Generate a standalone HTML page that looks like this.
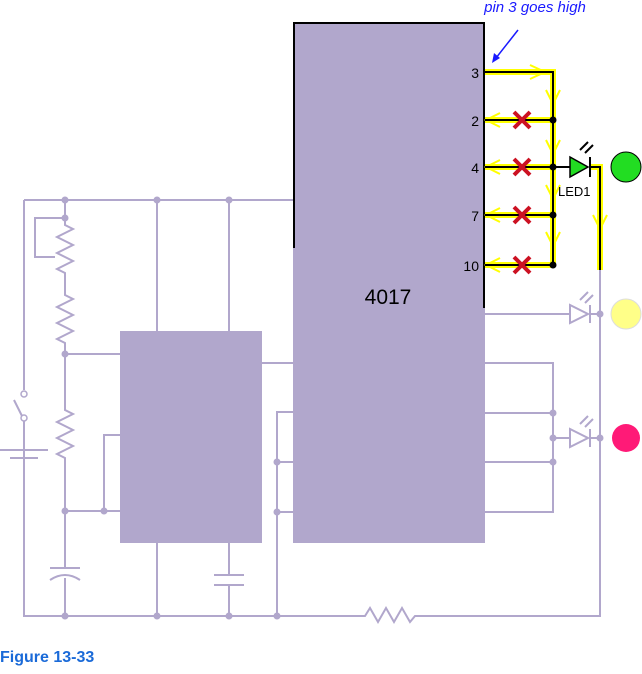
<!DOCTYPE html><html><head><style>body{margin:0;background:#fff}svg{display:block}</style></head><body>
<svg width="642" height="674" viewBox="0 0 642 674" xmlns="http://www.w3.org/2000/svg" font-family="Liberation Sans, sans-serif">
<g stroke="#b1a7cc" stroke-width="2" fill="none">
<path d="M24 200H293M24 200V390M24 420V616H365l5 -8 8 14 8 -14 8 14 8 -14 8 14 5 -6H600V270"/>
<path d="M24 420l-10 -20M24 458V616"/>
<path d="M0 450H48M10 458H38" />
<path d="M65 200V225l8 4-16 8 16 8-16 8 16 8-16 8 8 4V295l8 4-16 8 16 8-16 8 16 8-16 8 8 4V410l8 4-16 8 16 8-16 8 16 8-16 8 8 4V568M65 578V616"/>
<path d="M50 568H80M50 580Q65 570 80 580"/>
<path d="M65 218H35V257H55"/>
<path d="M65 354H120M65 511H120M104 511V435H120"/>
<path d="M157 200V331M157 543V616M229 200V331M229 543V575M229 585V616M214 575H244M214 585H244"/>
<path d="M262 363H293M277 616V412H293M277 462H293M277 512H293"/>
<path d="M485 314H570M485 363H553V512H485M485 413H553M485 462H553M553 438H570M590 438H600M590 314H600"/>
<path d="M570 305V323L588 314ZM590 305V323M570 429V447L588 438ZM590 429V447"/>
<path d="M580 300l8-8M585 303l8-8M580 424l8-8M585 427l8-8"/>
</g>
<g fill="#b1a7cc"><circle cx="65" cy="200" r="3.5"/><circle cx="157" cy="200" r="3.5"/><circle cx="229" cy="200" r="3.5"/><circle cx="65" cy="218" r="3.5"/><circle cx="65" cy="354" r="3.5"/><circle cx="65" cy="511" r="3.5"/><circle cx="104" cy="511" r="3.5"/><circle cx="65" cy="616" r="3.5"/><circle cx="157" cy="616" r="3.5"/><circle cx="229" cy="616" r="3.5"/><circle cx="277" cy="616" r="3.5"/><circle cx="277" cy="462" r="3.5"/><circle cx="277" cy="512" r="3.5"/><circle cx="553" cy="413" r="3.5"/><circle cx="553" cy="438" r="3.5"/><circle cx="553" cy="462" r="3.5"/><circle cx="600" cy="314" r="3.5"/><circle cx="600" cy="438" r="3.5"/>
<rect x="120" y="331" width="142" height="212"/><rect x="293" y="22" width="192" height="521"/></g>
<circle cx="24" cy="394" r="3" fill="#fff" stroke="#b1a7cc" stroke-width="1.5"/><circle cx="24" cy="418" r="3" fill="#fff" stroke="#b1a7cc" stroke-width="1.5"/>
<path d="M294 248V23H484V308" stroke="#000" stroke-width="2" fill="none"/>
<text x="388" y="304" font-size="21" text-anchor="middle" fill="#000">4017</text>
<g stroke="#ffff00" stroke-width="6" fill="none"><path d="M485 72H553V265M485 120H553M485 167H553M485 215H553M485 265H553M590 167H600V270"/></g>
<g stroke="#ffff00" stroke-width="2" fill="none"><path d="M530 65l15 7-15 7M546 90l7 14 7-14M546 140l7 14 7-14M546 185l7 14 7-14M546 232l7 14 7-14M500 113l-14 7 14 7M500 160l-14 7 14 7M500 208l-14 7 14 7M500 258l-14 7 14 7M593 215l7 14 7-14"/></g>
<g stroke="#000" stroke-width="2" fill="none"><path d="M485 72H553V265M485 120H553M485 167H570M485 215H553M485 265H553M590 167H600V270"/>
<path d="M590 157V177M580 150l8-8M585 153l8-8"/></g>
<path d="M570 157V177L588 167Z" fill="#22dd22" stroke="#000" stroke-width="1.5"/>
<g fill="#000"><circle cx="553" cy="120" r="3.5"/><circle cx="553" cy="167" r="3.5"/><circle cx="553" cy="215" r="3.5"/><circle cx="553" cy="265" r="3.5"/></g>
<g stroke="#cc1122" stroke-width="4"><path d="M514 112l16 16M530 112l-16 16M514 159l16 16M530 159l-16 16M514 207l16 16M530 207l-16 16M514 257l16 16M530 257l-16 16"/></g>
<g font-size="14" fill="#000" text-anchor="end"><text x="479" y="78">3</text><text x="479" y="126">2</text><text x="479" y="173">4</text><text x="479" y="221">7</text><text x="479" y="271">10</text></g>
<text x="558" y="196" font-size="13" fill="#000">LED1</text>
<circle cx="626" cy="167" r="15" fill="#22dd22" stroke="#000" stroke-width="1"/>
<circle cx="626" cy="314" r="15" fill="#ffff88" stroke="#ddd" stroke-width="1"/>
<circle cx="626" cy="438" r="14" fill="#ff1a77"/>
<text x="535" y="12" font-size="15" font-style="italic" fill="#1a1aff" text-anchor="middle">pin 3 goes high</text>
<path d="M518 30L496 58" stroke="#1a1aff" stroke-width="1.5"/><path d="M492 63l2-10 6 5z" fill="#1a1aff"/>
<text x="0" y="662" font-size="16" font-weight="bold" fill="#1a6ad8">Figure 13-33</text>
</svg></body></html>
